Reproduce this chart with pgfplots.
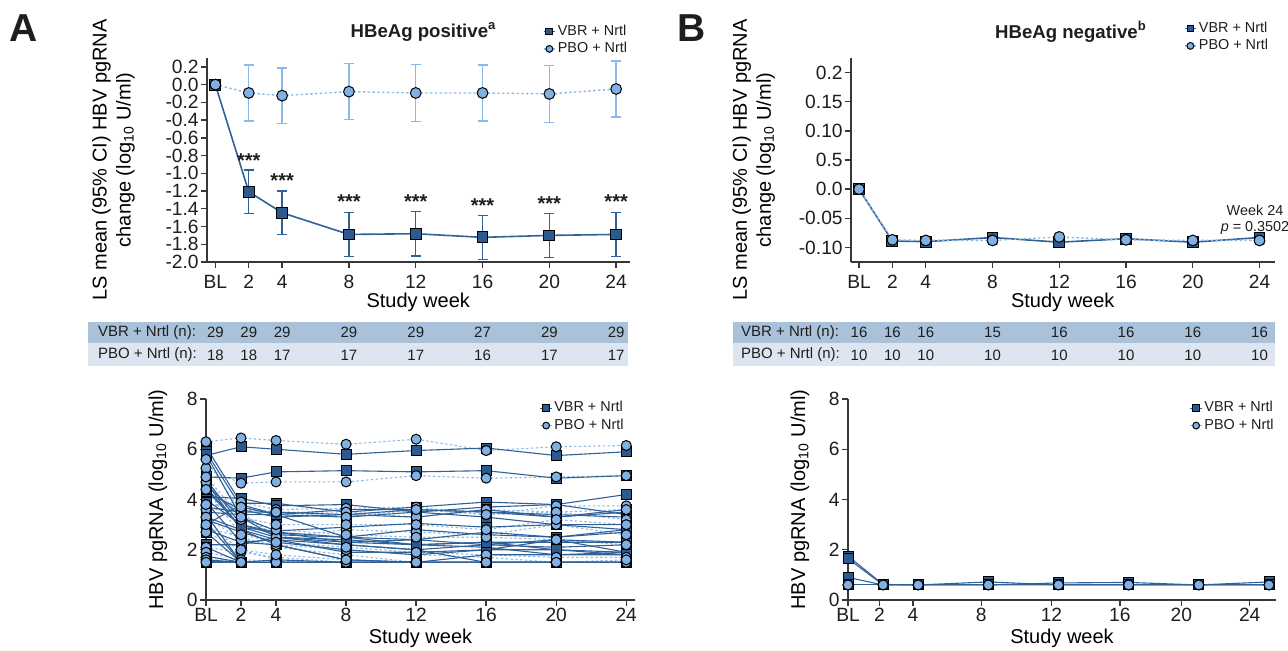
\documentclass[border=0pt]{standalone}
\usepackage{fontspec}
\setmainfont{Liberation Sans}
\usepackage{pgfplots}
\usepackage{pgfplotstable}
\pgfplotsset{compat=1.18}

\definecolor{vbrfill}{RGB}{45,90,142}
\definecolor{vbrline}{RGB}{48,98,152}
\definecolor{pbofill}{RGB}{128,176,228}
\definecolor{pboline}{RGB}{140,185,232}
\definecolor{rowvbr}{RGB}{170,194,217}
\definecolor{rowpbo}{RGB}{221,230,240}
\definecolor{axgray}{RGB}{55,55,55}
\definecolor{txt}{RGB}{30,30,30}

\newcommand{\tickfont}{\fontsize{9.6}{11}\selectfont}
\newcommand{\labfont}{\fontsize{9.6}{13}\selectfont}
\newcommand{\tabfont}{\fontsize{7.5}{9}\selectfont}
\newcommand{\legfont}{\fontsize{7.2}{8.6}\selectfont}

% individual patients, HBeAg positive (columns = patients)
\pgfplotstableread{
wk V1 V2 V3 V4 V5 V6 V7 V8 V9 V10 V11 V12 V13 V14 V15 V16 V17 V18 V19 V20 V21 V22 V23 V24 V25 V26 V27 V28 V29
0  5.75 4.90 6.10 5.90 4.10 3.70 3.50 4.60 4.80 4.50 3.30 3.20 2.80 2.20 4.00 3.40 3.10 2.70 5.80 4.70 2.10 1.75 1.60 1.50 4.30 3.90 3.00 4.40 1.55
2  6.10 4.85 3.85 3.70 4.05 3.50 3.40 3.30 3.00 2.90 2.80 2.70 2.30 2.20 3.00 1.50 1.50 1.50 3.30 2.80 1.50 1.50 1.50 1.50 3.60 2.30 3.80 2.90 1.50
4  6.00 5.10 3.85 3.40 3.75 3.50 3.40 2.75 2.60 2.50 2.40 2.30 2.20 2.50 2.70 1.60 1.50 1.50 2.50 2.20 1.50 1.50 1.50 1.50 3.30 2.40 3.40 2.70 1.50
8  5.80 5.15 3.50 3.60 3.80 3.40 3.30 2.90 2.50 2.40 2.20 2.00 1.60 2.30 2.50 1.50 1.50 1.50 2.20 1.60 1.50 1.50 1.50 1.50 3.40 1.90 2.50 2.30 1.50
12 5.95 5.10 3.70 3.60 3.50 3.60 3.50 3.05 2.40 2.20 2.00 1.80 1.50 2.40 2.80 1.50 1.50 1.50 2.00 1.50 1.50 1.50 1.50 1.50 3.30 1.90 2.20 2.20 1.50
16 6.05 5.15 3.90 3.50 3.70 3.50 3.30 2.90 2.70 2.30 2.20 2.00 1.80 2.20 2.60 1.50 1.50 1.50 1.50 1.50 1.50 1.50 1.50 1.50 3.60 2.00 2.10 2.30 1.50
20 5.75 4.85 3.80 3.30 3.80 3.40 3.00 3.00 2.50 2.30 2.10 2.00 1.80 2.40 2.50 1.50 1.50 1.50 1.50 1.50 1.50 1.50 1.50 1.50 3.30 2.40 1.80 2.00 1.50
24 5.90 4.95 4.20 3.50 3.40 3.30 3.00 2.80 2.70 2.30 2.20 1.90 1.80 2.30 2.80 1.50 1.50 1.50 1.50 1.50 1.50 1.50 1.50 1.50 3.60 1.90 1.90 1.80 1.50
}\spagAv
\pgfplotstableread{
wk P1 P2 P3 P4 P5 P6 P7 P8 P9 P10 P11 P12 P13 P14 P15 P16 P17 P18
0  6.30 5.25 3.75 3.60 5.60 2.90 2.10 1.90 1.70 1.60 4.70 3.80 4.90 2.70 1.50 3.30 4.40 3.00
2  6.45 4.65 3.90 3.60 3.50 2.50 1.90 1.60 1.50 1.50 3.20 3.70 3.30 2.00 1.50 2.40 2.60 2.00
4  6.35 4.70 3.60 3.50 2.50 2.10 1.70 1.55 1.50 1.50 2.80 3.50 3.00 1.60 1.50 2.20 2.30 1.80
8  6.20 4.70 3.65 3.50 2.80 1.80 1.50 1.50 1.50 1.50 2.60 3.30 3.00 1.50 1.50 2.00 2.10 1.60
12 6.40 4.95 3.70 3.30 2.70 1.50 1.50 1.50 1.50 1.50 2.50 3.60 3.00 1.50 1.50 1.80 1.90 1.50
16 5.95 4.85 3.40 3.60 2.60 1.50 1.50 1.50 1.50 1.50 2.50 3.40 2.80 1.50 1.50 1.70 1.80 1.50
20 6.10 4.90 3.75 3.50 3.00 1.50 1.50 1.50 1.50 1.50 2.40 3.50 3.20 1.50 1.50 1.50 1.70 1.50
24 6.15 4.95 3.75 3.60 2.60 1.50 1.50 1.50 1.50 1.50 2.20 3.20 3.00 1.50 1.50 1.50 1.70 1.60
}\spagAp
% individual patients, HBeAg negative
\pgfplotstableread{
wk V1 V2 V3 V4 P1 P2
0  1.75 1.65 0.90 0.60 0.60 0.60
2  0.62 0.60 0.60 0.60 0.60 0.60
4  0.60 0.60 0.60 0.60 0.60 0.60
8  0.60 0.72 0.60 0.60 0.60 0.60
12 0.60 0.60 0.68 0.60 0.60 0.60
16 0.60 0.60 0.70 0.60 0.60 0.60
20 0.60 0.60 0.60 0.60 0.60 0.60
24 0.60 0.72 0.60 0.60 0.60 0.60
}\spagB

\pgfplotsset{
  panel/.style={
    scale only axis,
    axis lines=left,
    axis line style={axgray, line width=0.7pt, -},
    tick style={axgray, line width=0.7pt},
    tick align=outside,
    major tick length=3pt,
    /pgf/number format/assume math mode=true,
    ticklabel style={font=\tickfont, text=txt},
    yticklabel style={inner xsep=1pt},
    label style={font=\labfont, text=txt},
    clip=false,
    legend cell align=left,
    legend style={draw=none, fill=none, font=\legfont, text=txt, inner sep=0pt,
      nodes={inner sep=1pt}, row sep=0pt},
    legend image code/.code={\draw[mark repeat=2,mark phase=2,##1] plot coordinates {(0cm,0cm) (0.1cm,0cm) (0.2cm,0cm)};},
    legend image post style={mark size=1.7pt},
  },
  ylabx/.style={every axis y label/.style={at={(axis description cs:#1,0.5)}, rotate=90, anchor=center, align=center}},
  xlaby/.style={every axis x label/.style={at={(axis description cs:0.5,0)}, anchor=center, yshift=#1}},
  vbr/.style={vbrline, line width=0.8pt, mark=square*, mark size=2.7pt,
    mark options={solid, fill=vbrfill, draw=black, line width=0.5pt}},
  pbo/.style={pboline, line width=0.7pt, dash pattern=on 1.2pt off 1.2pt, mark=*, mark size=2.7pt,
    mark options={solid, fill=pbofill, draw=black, line width=0.5pt}},
  vbrs/.style={vbr, line width=0.55pt, mark size=2.5pt},
  pbos/.style={pbo, line width=0.55pt, mark size=2.5pt},
  vbrerr/.style={error bars/.cd, y dir=both, y explicit,
    error bar style={vbrline, line width=0.7pt, solid},
    error mark options={rotate=90, vbrline, line width=0.7pt, mark size=2.5pt, solid}},
  pboerr/.style={error bars/.cd, y dir=both, y explicit,
    error bar style={pboline, line width=0.7pt, solid},
    error mark options={rotate=90, pboline, line width=0.7pt, mark size=2.5pt, solid}},
  ntab/.style={scale only axis, hide axis, clip=false, anchor=south west,
    height=22pt, ymin=0, ymax=1, nodes near coords, point meta=explicit symbolic,
    every node near coord/.style={font=\tabfont, text=txt, anchor=center}},
}

\begin{document}
\begin{tikzpicture}
\useasboundingbox (0,0) rectangle (644pt,-325pt);

% panel letters and titles
\node[font=\fontsize{19.5}{20}\selectfont\bfseries, text=txt] at (12pt,-14pt) {A};
\node[font=\fontsize{19.5}{20}\selectfont\bfseries, text=txt] at (346pt,-14pt) {B};
\node[font=\fontsize{9.3}{11}\selectfont\bfseries, text=txt] at (211.75pt,-16pt) {HBeAg positive\textsuperscript{a}};
\node[font=\fontsize{9.3}{11}\selectfont\bfseries, text=txt] at (535.5pt,-16pt) {HBeAg negative\textsuperscript{b}};

% ---------------- A: LS mean change ----------------
\begin{axis}[panel, ylabx=-0.2216, xlaby=-20pt,
  at={(103.5pt,-131pt)}, anchor=south west,
  width=211.25pt, height=102pt,
  xmin=-0.5, xmax=24.8, ymin=-2, ymax=0.3,
  xtick={0,2,4,8,12,16,20,24}, xticklabels={BL,2,4,8,12,16,20,24},
  ytick={-2,-1.8,-1.6,-1.4,-1.2,-1,-0.8,-0.6,-0.4,-0.2,0,0.2},
  yticklabels={-2.0,-1.8,-1.6,-1.4,-1.2,-1.0,-0.8,-0.6,-0.4,-0.2,0.0,0.2},
  xlabel={Study week},
  ylabel={LS mean (95\% CI) HBV pgRNA\\change (log\textsubscript{10} U/ml)},
  legend style={at={(1,1)}, anchor=south east, yshift=0pt},
]
\addplot[vbr, vbrerr]
  coordinates {(0,0) +- (0,0) (2,-1.208) +- (0,0.245) (4,-1.445) +- (0,0.245)
  (8,-1.689) +- (0,0.25) (12,-1.681) +- (0,0.25) (16,-1.722) +- (0,0.247)
  (20,-1.70) +- (0,0.247) (24,-1.689) +- (0,0.25)};
\addlegendentry{VBR + Nrtl}
\addplot[pbo, pboerr]
  coordinates {(0,0) +- (0,0) (2,-0.094) +- (0,0.315) (4,-0.124) +- (0,0.313)
  (8,-0.079) +- (0,0.315) (12,-0.094) +- (0,0.32) (16,-0.094) +- (0,0.315)
  (20,-0.105) +- (0,0.32) (24,-0.049) +- (0,0.317)};
\addlegendentry{PBO + Nrtl}
\addplot[only marks, mark=none, forget plot, nodes near coords={***},
  every node near coord/.style={font=\fontsize{10}{11}\selectfont\bfseries, text=txt, anchor=center}]
  coordinates {(2,-0.86) (4,-1.085) (8,-1.317) (12,-1.317) (16,-1.366) (20,-1.34) (24,-1.317)};
\end{axis}

% ---------------- A: n table ----------------
\fill[rowvbr] (44pt,-161pt) rectangle (314pt,-171.5pt);
\fill[rowpbo] (44pt,-171.5pt) rectangle (314pt,-183pt);
\node[anchor=west, font=\tabfont, text=txt] at (45.5pt,-166.25pt) {VBR + Nrtl (n):};
\node[anchor=west, font=\tabfont, text=txt] at (45.5pt,-177.25pt) {PBO + Nrtl (n):};
\begin{axis}[ntab, at={(103.5pt,-183pt)}, width=211.25pt, xmin=-0.5, xmax=24.8]
\addplot[draw=none] coordinates {(0,0.76)[29] (2,0.76)[29] (4,0.76)[29] (8,0.76)[29]
  (12,0.76)[29] (16,0.76)[27] (20,0.76)[29] (24,0.76)[29]};
\addplot[draw=none] coordinates {(0,0.25)[18] (2,0.25)[18] (4,0.25)[17] (8,0.25)[17]
  (12,0.25)[17] (16,0.25)[16] (20,0.25)[17] (24,0.25)[17]};
\end{axis}

% ---------------- A: individual patients ----------------
\begin{axis}[panel, ylabx=-0.112, xlaby=-19pt,
  at={(103pt,-300pt)}, anchor=south west,
  width=214.5pt, height=100.5pt,
  xmin=0, xmax=24.5, ymin=0, ymax=8,
  xtick={0,2,4,8,12,16,20,24}, xticklabels={BL,2,4,8,12,16,20,24},
  xticklabel style={inner ysep=1pt},
  ytick={0,2,4,6,8},
  xlabel={Study week},
  ylabel={HBV pgRNA (log\textsubscript{10} U/ml)},
  legend style={at={(1,1)}, anchor=north east, xshift=-4.5pt, yshift=0pt},
]
\addlegendimage{vbrs}\addlegendentry{VBR + Nrtl}
\addlegendimage{pbos}\addlegendentry{PBO + Nrtl}
\pgfplotsinvokeforeach{1,...,18}{\addplot[pbos, mark=none, forget plot] table[x=wk, y=P#1]{\spagAp};}
\pgfplotsinvokeforeach{1,...,29}{\addplot[vbrs, mark=none, forget plot] table[x=wk, y=V#1]{\spagAv};}
\pgfplotsinvokeforeach{1,...,29}{\addplot[vbrs, only marks, forget plot] table[x=wk, y=V#1]{\spagAv};}
\pgfplotsinvokeforeach{1,...,18}{\addplot[pbos, only marks, forget plot] table[x=wk, y=P#1]{\spagAp};}
\end{axis}

% ---------------- B: LS mean change ----------------
\begin{axis}[panel, ylabx=-0.230, xlaby=-20pt,
  at={(425.5pt,-131pt)}, anchor=south west,
  width=211.75pt, height=102pt,
  xmin=-0.48, xmax=24.9, ymin=-0.125, ymax=0.225,
  xtick={0,2,4,8,12,16,20,24}, xticklabels={BL,2,4,8,12,16,20,24},
  ytick={-0.1,-0.05,0,0.05,0.1,0.15,0.2},
  yticklabels={-0.10,-0.05,0.0,0.5,0.10,0.15,0.2},
  xlabel={Study week},
  ylabel={LS mean (95\% CI) HBV pgRNA\\change (log\textsubscript{10} U/ml)},
  legend style={at={(1,1)}, anchor=south east, xshift=-2pt, yshift=1.5pt},
]
\addplot[vbr, vbrerr]
  coordinates {(0,0) +- (0,0) (2,-0.089) +- (0,0.005) (4,-0.090) +- (0,0.005)
  (8,-0.083) +- (0,0.005) (12,-0.091) +- (0,0.005) (16,-0.085) +- (0,0.005)
  (20,-0.091) +- (0,0.005) (24,-0.083) +- (0,0.005)};
\addlegendentry{VBR + Nrtl}
\addplot[pbo, pboerr]
  coordinates {(0,0) +- (0,0) (2,-0.087) +- (0,0.006) (4,-0.088) +- (0,0.006)
  (8,-0.088) +- (0,0.006) (12,-0.082) +- (0,0.006) (16,-0.087) +- (0,0.006)
  (20,-0.088) +- (0,0.006) (24,-0.088) +- (0,0.006)};
\addlegendentry{PBO + Nrtl}
\end{axis}
\node[font=\fontsize{7.2}{7.8}\selectfont, text=txt, align=center] at (627.5pt,-110pt) {Week 24\\\textit{p} = 0.3502};

% ---------------- B: n table ----------------
\fill[rowvbr] (366.5pt,-161pt) rectangle (637.5pt,-171.5pt);
\fill[rowpbo] (366.5pt,-171.5pt) rectangle (637.5pt,-183pt);
\node[anchor=west, font=\tabfont, text=txt] at (367pt,-166.25pt) {VBR + Nrtl (n):};
\node[anchor=west, font=\tabfont, text=txt] at (367pt,-177.25pt) {PBO + Nrtl (n):};
\begin{axis}[ntab, at={(425.5pt,-183pt)}, width=211.75pt, xmin=-0.48, xmax=24.9]
\addplot[draw=none] coordinates {(0,0.76)[16] (2,0.76)[16] (4,0.76)[16] (8,0.76)[15]
  (12,0.76)[16] (16,0.76)[16] (20,0.76)[16] (24,0.76)[16]};
\addplot[draw=none] coordinates {(0,0.25)[10] (2,0.25)[10] (4,0.25)[10] (8,0.25)[10]
  (12,0.25)[10] (16,0.25)[10] (20,0.25)[10] (24,0.25)[10]};
\end{axis}

% ---------------- B: individual patients ----------------
\begin{axis}[panel, ylabx=-0.112, xlaby=-19pt,
  at={(424pt,-300pt)}, anchor=south west,
  width=214pt, height=100.5pt,
  xmin=0, xmax=24.4, ymin=0, ymax=8,
  xtick={0,1.8,3.7,7.6,11.6,15.5,19.0,22.9}, xticklabels={BL,2,4,8,12,16,20,24},
  xticklabel style={inner ysep=1pt},
  ytick={0,2,4,6,8},
  xlabel={Study week},
  ylabel={HBV pgRNA (log\textsubscript{10} U/ml)},
  legend style={at={(1,1)}, anchor=north east, xshift=0pt, yshift=0pt},
]
\addlegendimage{vbrs}\addlegendentry{VBR + Nrtl}
\addlegendimage{pbos}\addlegendentry{PBO + Nrtl}
\pgfplotsinvokeforeach{1,2}{\addplot[pbos, mark=none, forget plot] table[x=wk, y=P#1]{\spagB};}
\pgfplotsinvokeforeach{1,...,4}{\addplot[vbrs, mark=none, forget plot] table[x=wk, y=V#1]{\spagB};}
\pgfplotsinvokeforeach{1,...,4}{\addplot[vbrs, only marks, forget plot] table[x=wk, y=V#1]{\spagB};}
\pgfplotsinvokeforeach{1,2}{\addplot[pbos, only marks, forget plot] table[x=wk, y=P#1]{\spagB};}
\end{axis}
\end{tikzpicture}
\end{document}
